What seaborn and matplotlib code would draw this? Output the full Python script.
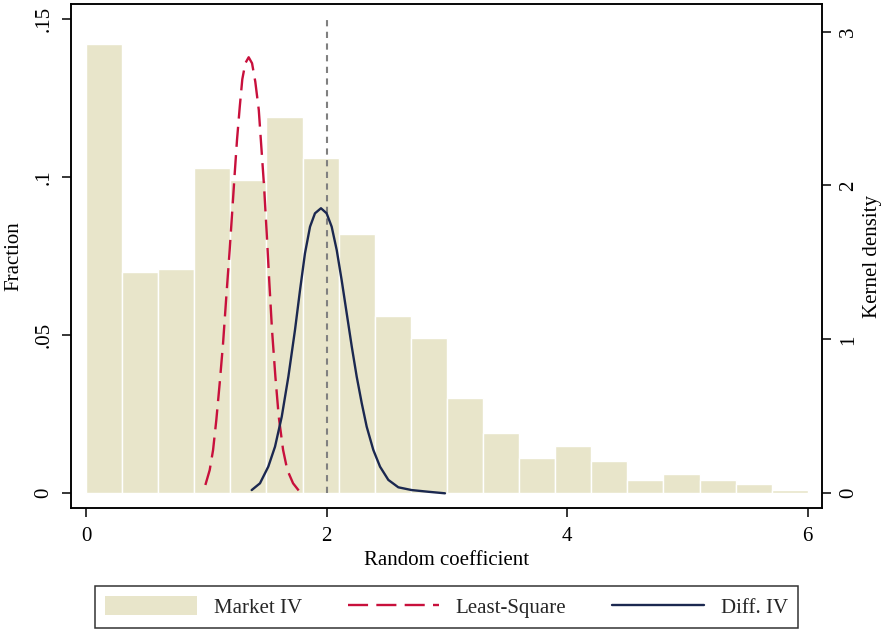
import numpy as np
import pandas as pd
import matplotlib
matplotlib.use("Agg")
import matplotlib.pyplot as plt
from matplotlib.patches import Patch
from matplotlib.lines import Line2D
import seaborn as sns

# ---------------- data ----------------
bin_centers = [0.15, 0.45, 0.75, 1.05, 1.35, 1.65, 1.95, 2.25, 2.55, 2.85,
               3.15, 3.45, 3.75, 4.05, 4.35, 4.65, 4.95, 5.25, 5.55, 5.85]
market_iv_frac = [0.142, 0.070, 0.071, 0.103, 0.099, 0.119, 0.106, 0.082, 0.056, 0.049,
                  0.030, 0.019, 0.011, 0.015, 0.010, 0.004, 0.006, 0.004, 0.003, 0.001]

ls_x = [0.992, 1.028, 1.056, 1.083, 1.111, 1.139, 1.166, 1.194, 1.216, 1.236, 1.255,
        1.278, 1.299, 1.324, 1.352, 1.380, 1.407, 1.436, 1.457, 1.480, 1.502, 1.524,
        1.546, 1.574, 1.602, 1.638, 1.673, 1.721, 1.776]
ls_y = [0.054, 0.151, 0.281, 0.476, 0.714, 0.974, 1.277, 1.580, 1.840, 2.079, 2.296,
        2.512, 2.690, 2.794, 2.833, 2.794, 2.674, 2.491, 2.253, 1.993, 1.689, 1.365,
        1.061, 0.758, 0.498, 0.282, 0.152, 0.065, 0.010]

div_x = [1.377, 1.446, 1.515, 1.571, 1.627, 1.682, 1.737, 1.779, 1.820, 1.862, 1.903,
         1.953, 2.000, 2.042, 2.084, 2.125, 2.167, 2.209, 2.250, 2.292, 2.333, 2.388,
         2.444, 2.513, 2.596, 2.707, 2.845, 2.984]
div_y = [0.021, 0.065, 0.173, 0.303, 0.498, 0.758, 1.061, 1.321, 1.559, 1.732, 1.819,
         1.852, 1.819, 1.732, 1.580, 1.385, 1.169, 0.953, 0.758, 0.585, 0.433, 0.282,
         0.173, 0.087, 0.039, 0.021, 0.010, 0.0]

true_value = 2.0
left_ticks = [0, 0.05, 0.10, 0.15]
left_ticklabels = ["0", ".05", ".1", ".15"]
right_ticks = [0, 1, 2, 3]
right_ticklabels = ["0", "1", "2", "3"]
x_ticks = [0, 2, 4, 6]
x_ticklabels = ["0", "2", "4", "6"]

# ---------------- style ----------------
sns.set_style("white")
plt.rcParams["font.family"] = ["Liberation Serif", "DejaVu Serif"]
FS = 15

BAR = "#E8E5CA"
RED = "#C8103C"
NAVY = "#1B2850"
GRAY = "#808080"

fig = plt.figure(figsize=(8.88, 6.30), dpi=100)
ax = fig.add_axes([71/888, 1-508/630, (822-71)/888, (508-4)/630])

hist_df = pd.DataFrame({"x": bin_centers, "w": market_iv_frac})
sns.histplot(data=hist_df, x="x", weights="w", bins=20, binrange=(0, 6),
             color=BAR, alpha=1.0, edgecolor="white", linewidth=1.0, ax=ax)
ax.vlines(true_value, 0, max(left_ticks), colors=GRAY, linestyles=(0, (3, 2.6)),
          linewidth=1.5, zorder=3)

ax.set_xlim(-0.125, 6.118)
ax.set_ylim(-0.00475, 0.1548)
ax.set_xticks(x_ticks)
ax.set_xticklabels(x_ticklabels)
ax.set_yticks(left_ticks)
ax.set_yticklabels(left_ticklabels, rotation=90, va="center")
ax.set_xlabel("Random coefficient", fontsize=FS, labelpad=4)
ax.set_ylabel("Fraction", fontsize=FS, labelpad=8)

ax2 = ax.twinx()
ls_df = pd.DataFrame({"x": ls_x, "y": ls_y})
div_df = pd.DataFrame({"x": div_x, "y": div_y})
sns.lineplot(data=ls_df, x="x", y="y", ax=ax2, color=RED, linewidth=1.7, sort=False)
ax2.lines[-1].set_dashes((8.5, 3.5))
sns.lineplot(data=div_df, x="x", y="y", ax=ax2, color=NAVY, linewidth=1.7, sort=False)
for ln in ax2.lines:
    ln.set_solid_joinstyle("round")
    ln.set_dash_joinstyle("round")
ax2.set_ylim(-0.0955, 3.179)
ax2.set_yticks(right_ticks)
ax2.set_yticklabels(right_ticklabels, rotation=90, va="center")
ax2.set_ylabel("Kernel density", fontsize=FS, labelpad=3)
ax2.set_xlabel("")

for a in (ax, ax2):
    for s in a.spines.values():
        s.set_visible(True)
        s.set_color("black")
        s.set_linewidth(1.1)
    a.tick_params(axis="both", which="major", length=6.5, width=1.1, color="black",
                  labelsize=FS, labelcolor="black", direction="out")
ax.tick_params(axis="y", pad=6, left=True)
ax.tick_params(axis="x", pad=7, bottom=True)
ax2.tick_params(axis="y", pad=6, right=True)
ax.xaxis.label.set_color("black")
ax.yaxis.label.set_color("black")
ax2.yaxis.label.set_color("black")

handles = [
    Patch(facecolor=BAR, edgecolor="none"),
    Line2D([], [], color=RED, linewidth=1.7, dashes=(8.5, 3.5)),
    Line2D([], [], color=NAVY, linewidth=1.7),
]
labels = ["Market IV", "Least-Square", "Diff. IV"]
leg = fig.legend(handles, labels, loc="center", bbox_to_anchor=(446.5/888, 1-607/630),
                 ncol=3, fontsize=FS, frameon=True, fancybox=False, edgecolor="black",
                 handlelength=4.4, handleheight=1.0, handletextpad=0.8, columnspacing=2.2,
                 borderpad=0.5, borderaxespad=0)
leg.get_frame().set_linewidth(1.1)

fig.savefig("out.png", dpi=100, facecolor="white")
